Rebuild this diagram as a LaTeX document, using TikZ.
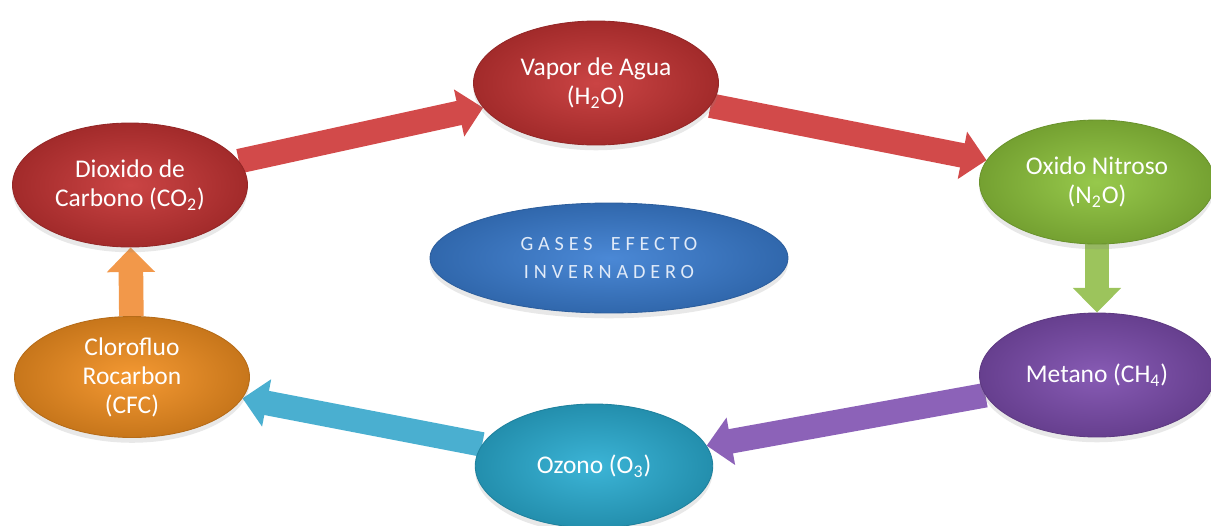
\documentclass[tikz,border=0pt]{standalone}
\usepackage{fontspec}
\setmainfont{Carlito}
\usepackage{xcolor}
\usepackage{tikz}
\usetikzlibrary{positioning, shapes.geometric, arrows.meta, backgrounds, shadows}
\definecolor{gasred}{HTML}{C63434}
\definecolor{gasgreen}{HTML}{8EC43C}
\definecolor{gaspurple}{HTML}{7D4DAE}
\definecolor{gascyan}{HTML}{2BAED3}
\definecolor{gasorange}{HTML}{F39021}
\definecolor{gasblue}{HTML}{3B7ED2}
\definecolor{arrred}{HTML}{D24A4A}
\definecolor{arrgreen}{HTML}{9CC45C}
\definecolor{arrpurple}{HTML}{8C62B8}
\definecolor{arrcyan}{HTML}{4AAFD0}
\definecolor{arrorange}{HTML}{F2984A}

\begin{document}
\begin{tikzpicture}[x=0.02cm, y=-0.02cm,
 font=\fontsize{14.5}{16.5}\selectfont,
 gas/.style={ellipse, draw=#1!75!black, line width=0.5pt, inner color=#1!92!white, outer color=#1!82!black,
   text=white, align=center, minimum width=4.7cm, minimum height=2.48cm, inner sep=0pt,
   drop shadow={opacity=0.18, shadow xshift=0pt, shadow yshift=-3pt}},
 flow/.style={draw=#1, line width=14pt, -{Triangle[length=0pt 1.0, width=0pt 1.9]}}]
\useasboundingbox (0,0) rectangle (1211,525);
\clip (0,0) rectangle (1211,525);
\node[gas=gasred](co2) at (130,185){Dioxido de\\Carbono (CO\textsubscript{2})};
\node[gas=gasred, minimum width=4.9cm](vap) at (596,83){Vapor de Agua\\(H\textsubscript{2}O)};
\node[gas=gasgreen](nox) at (1097,182){Oxido Nitroso\\(N\textsubscript{2}O)};
\node[gas=gaspurple](met) at (1097,375){Metano (CH\textsubscript{4})};
\node[gas=gascyan, minimum width=4.75cm](ozo) at (594,466){Ozono (O\textsubscript{3})};
\node[gas=gasorange, minimum height=2.42cm](cfc) at (132,377){Clorofluo\\Rocarbon\\(CFC)};
\node[gas=gasblue, minimum width=7.16cm, minimum height=2.2cm, text=white!84!gasblue,
  font=\fontsize{11.5}{16.5}\selectfont\addfontfeature{LetterSpace=24}](gei) at (609,258){GASES\hspace{5pt} EFECTO\\INVERNADERO};

\begin{scope}[on background layer]
\draw[flow=arrred](co2)--(vap);
\draw[flow=arrred](vap)--(nox);
\draw[flow=arrgreen](nox)--(met);
\draw[flow=arrpurple](met)--(ozo);
\draw[flow=arrcyan](ozo)--(cfc);
\draw[flow=arrorange](cfc)--(co2);
\end{scope}
\end{tikzpicture}
\end{document}
